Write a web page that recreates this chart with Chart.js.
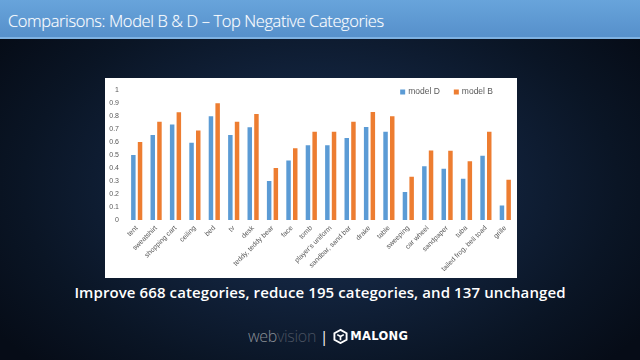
<!DOCTYPE html>
<html><head><meta charset="utf-8">
<script src="https://cdn.jsdelivr.net/npm/chart.js@4.4.0/dist/chart.umd.min.js"></script>
<style>
html,body{margin:0;padding:0;width:640px;height:360px;overflow:hidden;}
body{position:relative;background:radial-gradient(ellipse 62% 70% at 50% 52%, #1b3150 0%, #12233d 40%, #0a1525 75%, #060c17 100%);font-family:"Open Sans","Liberation Sans",sans-serif;}
#title{position:absolute;left:0;top:0;width:640px;height:37px;background:linear-gradient(#68a4db,#5690cb);border-bottom:2px solid #7fb2e2;}
#title span{position:absolute;left:8px;top:9px;font-family:"Open Sans";font-weight:300;font-size:16.5px;color:#fff;white-space:nowrap;letter-spacing:-0.4px;text-shadow:0 0 1px rgba(255,255,255,0.4);}
#box{position:absolute;left:105px;top:78px;width:412px;height:200px;background:#fff;}
#caption{position:absolute;left:0;width:640px;top:282px;text-align:center;color:#fff;font-size:15px;font-weight:600;letter-spacing:0.1px;white-space:nowrap;}
#logo{position:absolute;left:248px;top:326px;height:20px;display:flex;align-items:center;white-space:nowrap;}
#logo .w1{color:#8a8f96;font-size:16px;font-weight:300;letter-spacing:-0.3px;}
#logo .w2{color:#4a5260;font-size:16px;font-weight:300;letter-spacing:-0.3px;}
#logo .bar{color:#fff;font-size:15px;margin:0 5px 0 4px;}
#logo .m{color:#fff;font-family:"DejaVu Sans";font-size:11.5px;font-weight:bold;letter-spacing:0.3px;margin-left:2px;}
</style></head>
<body>
<div id="title"><span>Comparisons: Model B &amp; D – Top Negative Categories</span></div>
<div id="box"><canvas id="c" width="412" height="200"></canvas></div>
<div id="caption">Improve 668 categories, reduce 195 categories, and 137 unchanged</div>
<div id="logo"><span class="w1">web</span><span class="w2">vision</span><span class="bar">|</span>
<svg width="15" height="15" viewBox="0 0 16 16"><path d="M8 1 L14.5 4.5 L14.5 11.5 L8 15 L1.5 11.5 L1.5 4.5 Z" fill="none" stroke="#fff" stroke-width="2"/><path d="M4.5 6 L8 8 L11.5 6 M8 8 L8 12" fill="none" stroke="#fff" stroke-width="1.8"/></svg>
<span class="m">MALONG</span></div>
<script>
const categories = ["tent","sweatshirt","shopping cart","ceiling","bed","tv","desk","teddy, teddy bear","face","tomb","player's uniform","sandbar, sand bar","drake","table","sweeping","car wheel","sandpaper","tuba","tailed frog, bell toad","grille"];
const modelD = [0.50,0.655,0.735,0.595,0.80,0.655,0.715,0.30,0.458,0.576,0.576,0.632,0.716,0.68,0.215,0.414,0.395,0.317,0.495,0.112];
const modelB = [0.60,0.757,0.83,0.69,0.90,0.757,0.816,0.40,0.552,0.68,0.68,0.757,0.833,0.80,0.333,0.535,0.533,0.452,0.68,0.31];
const yTicks = {min:0, max:1, step:0.1};

const topLegend = {
  id:'topLegend',
  afterDraw(chart, args, o){
    const ctx = chart.ctx;
    ctx.save();
    ctx.font = o.size + 'px ' + o.family;
    ctx.textBaseline = 'middle';
    let x = o.right;
    const items = chart.data.datasets.map(d => ({text:d.label, color:d.backgroundColor}));
    for (let i = items.length - 1; i >= 0; i--) {
      const w = ctx.measureText(items[i].text).width;
      x -= w;
      ctx.fillStyle = o.color;
      ctx.fillText(items[i].text, x, o.y);
      x -= o.gap + o.box;
      ctx.fillStyle = items[i].color;
      ctx.fillRect(x, o.y - o.box / 2, o.box, o.box);
      x -= o.itemGap;
    }
    ctx.restore();
  }
};

new Chart(document.getElementById('c'), {
  type:'bar',
  data:{
    labels:categories,
    datasets:[
      {label:'model D', data:modelD, backgroundColor:'#5b9bd5', borderWidth:0},
      {label:'model B', data:modelB, backgroundColor:'#ed7d31', borderWidth:0}
    ]
  },
  options:{
    responsive:false, animation:false, devicePixelRatio:1,
    categoryPercentage:0.69, barPercentage:0.67,
    layout:{padding:{left:0,right:2,top:0,bottom:0}},
    plugins:{
      legend:{display:false},
      tooltip:{enabled:false},
      topLegend:{right:388, y:14, size:8.5, family:'Liberation Sans', color:'#595959', box:5, gap:3, itemGap:14}
    },
    scales:{
      x:{grid:{display:false, drawTicks:false}, border:{display:false},
        ticks:{autoSkip:false, minRotation:45, maxRotation:45, color:'#595959', padding:4, font:{size:7, family:'Liberation Sans'}},
        afterFit(s){ s.height = 58; }},
      y:{min:yTicks.min, max:yTicks.max, grid:{display:false, drawTicks:false}, border:{display:false},
        ticks:{stepSize:yTicks.step, color:'#595959', padding:8, font:{size:7, family:'Liberation Sans'},
          callback:(v) => String(Math.round(v * 10) / 10)},
        afterFit(s){ s.width = 22; }}
    }
  },
  plugins:[topLegend]
});
</script>
</body></html>
